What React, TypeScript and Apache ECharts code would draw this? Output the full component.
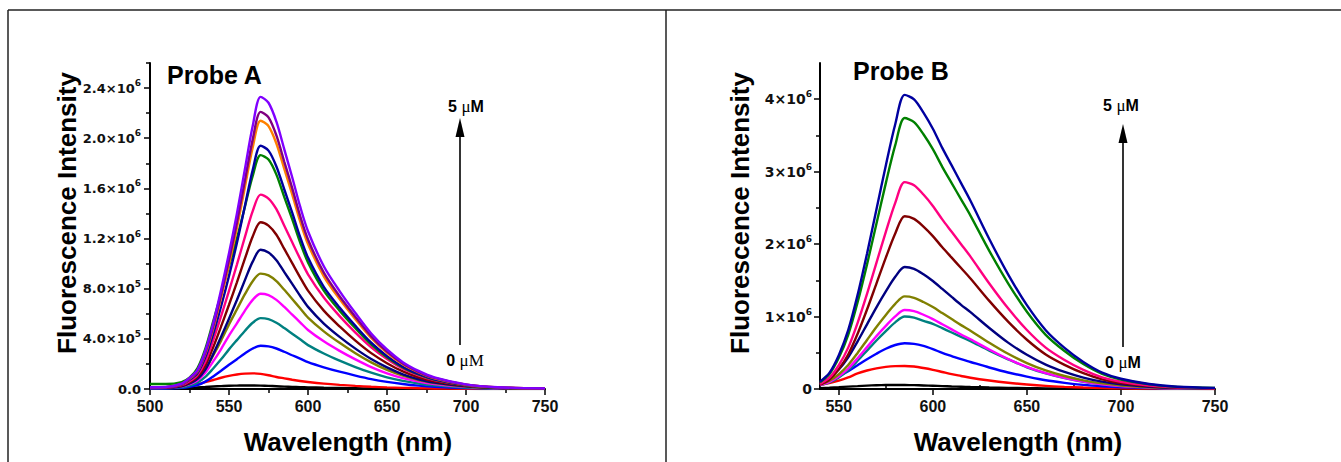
import React, { useEffect, useRef } from 'react';
import * as echarts from 'echarts';

// ---------- Probe A (values in units of 10^6) ----------
const wavelengthA = [500, 510, 520, 525, 530, 535, 540, 545, 550, 555, 560, 565, 570, 575, 580, 585, 590, 595, 600, 610, 620, 630, 640, 650, 660, 670, 680, 700, 720, 750];
const a_black = [0.002, 0.003, 0.006, 0.008, 0.012, 0.016, 0.02, 0.023, 0.026, 0.027, 0.028, 0.028, 0.027, 0.025, 0.022, 0.019, 0.017, 0.015, 0.013, 0.01, 0.008, 0.006, 0.004, 0.003, 0.002, 0.002, 0.001, 0.001, 0, 0];
const a_red = [0.005, 0.008, 0.016, 0.025, 0.038, 0.055, 0.072, 0.09, 0.105, 0.116, 0.123, 0.125, 0.121, 0.11, 0.096, 0.085, 0.074, 0.064, 0.056, 0.043, 0.033, 0.025, 0.018, 0.013, 0.009, 0.006, 0.004, 0.002, 0.001, 0.001];
const a_blue = [0.003, 0.004, 0.009, 0.017, 0.031, 0.059, 0.1, 0.145, 0.193, 0.238, 0.283, 0.323, 0.345, 0.34, 0.323, 0.297, 0.269, 0.242, 0.214, 0.173, 0.138, 0.107, 0.079, 0.057, 0.04, 0.027, 0.018, 0.008, 0.003, 0.001];
const a_teal = [0.006, 0.007, 0.014, 0.028, 0.051, 0.096, 0.164, 0.237, 0.316, 0.39, 0.463, 0.528, 0.565, 0.557, 0.528, 0.486, 0.441, 0.396, 0.35, 0.283, 0.226, 0.175, 0.13, 0.093, 0.065, 0.044, 0.029, 0.012, 0.005, 0.002];
const a_magenta = [0.008, 0.009, 0.019, 0.038, 0.068, 0.129, 0.22, 0.319, 0.426, 0.524, 0.623, 0.711, 0.76, 0.749, 0.711, 0.654, 0.593, 0.532, 0.471, 0.38, 0.304, 0.236, 0.175, 0.125, 0.087, 0.059, 0.04, 0.017, 0.006, 0.002];
const a_olive = [0.009, 0.011, 0.023, 0.046, 0.083, 0.156, 0.267, 0.386, 0.515, 0.635, 0.754, 0.86, 0.92, 0.906, 0.86, 0.791, 0.718, 0.644, 0.57, 0.46, 0.368, 0.285, 0.212, 0.152, 0.106, 0.072, 0.048, 0.02, 0.007, 0.003];
const a_navy = [0.008, 0.009, 0.022, 0.044, 0.08, 0.155, 0.278, 0.416, 0.561, 0.71, 0.866, 1.016, 1.11, 1.088, 1.027, 0.932, 0.838, 0.744, 0.655, 0.522, 0.416, 0.322, 0.239, 0.172, 0.117, 0.078, 0.051, 0.021, 0.008, 0.003];
const a_wine = [0.009, 0.011, 0.027, 0.053, 0.096, 0.186, 0.333, 0.499, 0.672, 0.851, 1.037, 1.217, 1.33, 1.303, 1.23, 1.117, 1.004, 0.891, 0.785, 0.625, 0.499, 0.386, 0.286, 0.206, 0.14, 0.093, 0.061, 0.025, 0.009, 0.004];
const a_pink = [0.011, 0.012, 0.031, 0.062, 0.112, 0.217, 0.388, 0.581, 0.783, 0.992, 1.209, 1.418, 1.55, 1.519, 1.434, 1.302, 1.17, 1.039, 0.915, 0.729, 0.581, 0.45, 0.333, 0.24, 0.163, 0.109, 0.071, 0.029, 0.011, 0.005];
const a_green = [0.04, 0.04, 0.055, 0.09, 0.165, 0.32, 0.54, 0.76, 0.98, 1.2, 1.45, 1.7, 1.865, 1.83, 1.71, 1.53, 1.355, 1.17, 1.01, 0.785, 0.625, 0.485, 0.355, 0.252, 0.172, 0.116, 0.075, 0.03, 0.011, 0.004];
const a_darkblue = [0.012, 0.014, 0.035, 0.074, 0.126, 0.252, 0.437, 0.66, 0.902, 1.164, 1.455, 1.746, 1.94, 1.901, 1.775, 1.591, 1.407, 1.213, 1.048, 0.815, 0.65, 0.504, 0.369, 0.262, 0.178, 0.12, 0.078, 0.031, 0.012, 0.004];
const a_orange = [0.013, 0.015, 0.039, 0.081, 0.139, 0.278, 0.482, 0.728, 0.995, 1.284, 1.605, 1.926, 2.14, 2.097, 1.958, 1.755, 1.552, 1.338, 1.156, 0.899, 0.717, 0.556, 0.407, 0.289, 0.197, 0.133, 0.086, 0.034, 0.013, 0.004];
const a_purple = [0.013, 0.015, 0.04, 0.084, 0.144, 0.287, 0.497, 0.751, 1.028, 1.326, 1.658, 1.989, 2.21, 2.166, 2.022, 1.812, 1.602, 1.381, 1.193, 0.928, 0.74, 0.575, 0.42, 0.298, 0.203, 0.137, 0.088, 0.035, 0.013, 0.004];
const a_violet = [0.014, 0.016, 0.042, 0.089, 0.151, 0.303, 0.524, 0.792, 1.083, 1.398, 1.748, 2.097, 2.33, 2.283, 2.132, 1.911, 1.689, 1.456, 1.258, 0.979, 0.781, 0.606, 0.443, 0.315, 0.214, 0.144, 0.093, 0.037, 0.014, 0.005];
const seriesA = [a_black, a_red, a_blue, a_teal, a_magenta, a_olive, a_navy, a_wine, a_pink, a_green, a_darkblue, a_orange, a_purple, a_violet];
const colorsA = ['#000000', '#FF0000', '#0000FF', '#008080', '#FF00FF', '#808000', '#000080', '#800000', '#FF0080', '#008000', '#0000A0', '#FF8000', '#800080', '#8000FF'];
const yTicksA = [0, 0.4, 0.8, 1.2, 1.6, 2.0, 2.4];
const yTickTextA = ['0.0', '4.0×10^5', '8.0×10^5', '1.2×10^6', '1.6×10^6', '2.0×10^6', '2.4×10^6'];

// ---------- Probe B (values in units of 10^6) ----------
const wavelengthB = [540, 545, 550, 555, 560, 565, 570, 575, 580, 585, 590, 595, 600, 605, 610, 615, 620, 630, 640, 650, 660, 670, 680, 690, 700, 715, 730, 750];
const b_black = [0.012, 0.018, 0.025, 0.033, 0.04, 0.047, 0.052, 0.055, 0.056, 0.055, 0.053, 0.049, 0.045, 0.04, 0.035, 0.031, 0.027, 0.02, 0.015, 0.011, 0.008, 0.005, 0.004, 0.003, 0.002, 0.001, 0.001, 0];
const b_red = [0.055, 0.08, 0.115, 0.16, 0.215, 0.255, 0.285, 0.305, 0.316, 0.318, 0.31, 0.29, 0.265, 0.235, 0.205, 0.18, 0.155, 0.117, 0.086, 0.062, 0.043, 0.03, 0.02, 0.013, 0.009, 0.005, 0.003, 0.001];
const b_blue = [0.076, 0.12, 0.177, 0.246, 0.329, 0.411, 0.487, 0.556, 0.607, 0.632, 0.623, 0.594, 0.55, 0.499, 0.455, 0.411, 0.373, 0.297, 0.228, 0.171, 0.12, 0.085, 0.057, 0.038, 0.025, 0.013, 0.006, 0.003];
const b_teal = [0.05, 0.09, 0.16, 0.26, 0.39, 0.53, 0.67, 0.8, 0.92, 1.0, 0.985, 0.94, 0.9, 0.84, 0.78, 0.72, 0.66, 0.53, 0.41, 0.3, 0.215, 0.15, 0.1, 0.065, 0.041, 0.02, 0.01, 0.005];
const b_magenta = [0.055, 0.098, 0.174, 0.283, 0.425, 0.578, 0.73, 0.872, 1.003, 1.09, 1.074, 1.025, 0.965, 0.894, 0.823, 0.752, 0.687, 0.545, 0.414, 0.305, 0.218, 0.153, 0.102, 0.065, 0.041, 0.021, 0.01, 0.005];
const b_olive = [0.064, 0.115, 0.204, 0.332, 0.498, 0.677, 0.856, 1.022, 1.176, 1.278, 1.259, 1.201, 1.131, 1.048, 0.965, 0.882, 0.805, 0.639, 0.486, 0.358, 0.256, 0.179, 0.12, 0.077, 0.049, 0.024, 0.012, 0.006];
const b_navy = [0.084, 0.152, 0.269, 0.438, 0.657, 0.893, 1.128, 1.347, 1.549, 1.684, 1.659, 1.583, 1.49, 1.381, 1.271, 1.162, 1.061, 0.842, 0.64, 0.472, 0.337, 0.236, 0.158, 0.101, 0.064, 0.032, 0.015, 0.008];
const b_wine = [0.06, 0.131, 0.274, 0.477, 0.763, 1.097, 1.455, 1.813, 2.147, 2.385, 2.349, 2.242, 2.111, 1.956, 1.813, 1.67, 1.526, 1.216, 0.93, 0.68, 0.477, 0.334, 0.219, 0.134, 0.083, 0.041, 0.019, 0.01];
const b_pink = [0.071, 0.157, 0.328, 0.571, 0.914, 1.313, 1.742, 2.17, 2.57, 2.855, 2.812, 2.684, 2.527, 2.341, 2.17, 1.999, 1.827, 1.456, 1.113, 0.814, 0.571, 0.4, 0.263, 0.16, 0.1, 0.049, 0.023, 0.011];
const b_green = [0.094, 0.206, 0.43, 0.748, 1.197, 1.72, 2.281, 2.842, 3.366, 3.74, 3.684, 3.516, 3.31, 3.067, 2.842, 2.618, 2.394, 1.907, 1.459, 1.066, 0.748, 0.524, 0.344, 0.209, 0.131, 0.064, 0.03, 0.015];
const b_darkblue = [0.102, 0.223, 0.467, 0.812, 1.299, 1.868, 2.477, 3.086, 3.654, 4.06, 3.999, 3.816, 3.593, 3.329, 3.086, 2.842, 2.598, 2.071, 1.583, 1.157, 0.812, 0.568, 0.374, 0.227, 0.142, 0.069, 0.032, 0.016];
const seriesB = [b_black, b_red, b_blue, b_teal, b_magenta, b_olive, b_navy, b_wine, b_pink, b_green, b_darkblue];
const colorsB = ['#000000', '#FF0000', '#0000FF', '#008080', '#FF00FF', '#808000', '#000080', '#800000', '#FF0080', '#008000', '#0000A0'];
const yTicksB = [0, 1, 2, 3, 4];
const yTickTextB = ['0', '1×10^6', '2×10^6', '3×10^6', '4×10^6'];
const xMajorB = [550, 600, 650, 700, 750];
const xMinorB = [575, 625, 675, 725];

const SANS = "'Liberation Sans', Arial, sans-serif";
const SERIF = "'Liberation Serif', 'Times New Roman', serif";
const WIDE = "'DejaVu Sans', sans-serif";

function yFormatter(ticks: number[], texts: string[]) {
  return (v: number) => {
    const i = ticks.findIndex((t) => Math.abs(t - v) < 1e-6);
    if (i < 0) return '';
    const [m, e] = texts[i].split('^');
    return e ? `{m|${m}}{e|${e}}` : `{m|${m}}`;
  };
}

function yRich(size: number) {
  return {
    m: { fontFamily: WIDE, fontWeight: 'bold', fontSize: size, color: '#111', lineHeight: size + 1 },
    e: { fontFamily: WIDE, fontWeight: 'bold', fontSize: 9, color: '#111', lineHeight: 9, padding: [0, 0, 10, 0] },
  };
}

const axisLine = { show: true, onZero: false, lineStyle: { color: '#000', width: 2 } };
const tickStyle = { color: '#000', width: 1.5 };

export default function App() {
  const ref = useRef<HTMLDivElement>(null);
  useEffect(() => {
    document.body.style.margin = '0';
    const chart = echarts.init(ref.current!, null, { renderer: 'svg' });
    const series: any[] = [];
    seriesA.forEach((ys, k) => {
      series.push({
        type: 'line', xAxisIndex: 0, yAxisIndex: 0, showSymbol: false, silent: true,
        smooth: 0.3,
        lineStyle: { color: colorsA[k], width: 2.4 }, itemStyle: { color: colorsA[k] },
        data: wavelengthA.map((x, i) => [x, ys[i]]),
      });
    });
    seriesB.forEach((ys, k) => {
      series.push({
        type: 'line', xAxisIndex: 1, yAxisIndex: 1, showSymbol: false, silent: true,
        smooth: 0.3,
        lineStyle: { color: colorsB[k], width: 2.4 }, itemStyle: { color: colorsB[k] },
        data: wavelengthB.map((x, i) => [x, ys[i]]),
      });
    });

    const arrowA = 460;
    const arrowB = 1123;
    const muRich = {
      n: { fontFamily: SANS, fontWeight: 'bold', fontSize: 16, color: '#000' },
      u: { fontFamily: SERIF, fontSize: 17, color: '#000' },
    };

    chart.setOption({
      animation: false,
      grid: [
        { left: 150, top: 63, width: 395, height: 326, containLabel: false },
        { left: 820, top: 63, width: 395, height: 326, containLabel: false },
      ],
      xAxis: [
        {
          type: 'value', gridIndex: 0, min: 500, max: 750, interval: 50,
          axisLine, splitLine: { show: false },
          axisTick: { show: true, inside: false, length: 6, lineStyle: tickStyle },
          minorTick: { show: true, splitNumber: 2, length: 4, lineStyle: tickStyle },
          axisLabel: { margin: 9, fontFamily: SANS, fontWeight: 'bold', fontSize: 16, color: '#111' },
        },
        {
          type: 'value', gridIndex: 1, min: 540, max: 750,
          axisLine, splitLine: { show: false },
          axisTick: { show: true, length: 6, lineStyle: tickStyle, customValues: xMajorB },
          axisLabel: { margin: 9, fontFamily: SANS, fontWeight: 'bold', fontSize: 16, color: '#111', customValues: xMajorB },
        },
        {
          type: 'value', gridIndex: 1, min: 540, max: 750,
          axisLine: { show: false }, splitLine: { show: false },
          axisTick: { show: true, length: 4, lineStyle: tickStyle, customValues: xMinorB },
          axisLabel: { show: false },
        },
      ],
      yAxis: [
        {
          type: 'value', gridIndex: 0, min: 0, max: 2.6, interval: 0.4,
          axisLine, splitLine: { show: false },
          axisTick: { show: true, length: 6, lineStyle: tickStyle, customValues: yTicksA },
          minorTick: { show: true, splitNumber: 2, length: 4, lineStyle: tickStyle },
          axisLabel: { margin: 9, formatter: yFormatter(yTicksA, yTickTextA), rich: yRich(13) },
        },
        {
          type: 'value', gridIndex: 1, min: 0, max: 4.5, interval: 1,
          axisLine, splitLine: { show: false },
          axisTick: { show: true, length: 6, lineStyle: tickStyle, customValues: yTicksB },
          minorTick: { show: true, splitNumber: 2, length: 4, lineStyle: tickStyle },
          axisLabel: { margin: 8, formatter: yFormatter(yTicksB, yTickTextB), rich: yRich(14) },
        },
      ],
      graphic: [
        { type: 'line', shape: { x1: 8, y1: 10, x2: 1341, y2: 10 }, style: { stroke: '#222', lineWidth: 1.5 } },
        { type: 'line', shape: { x1: 8, y1: 10, x2: 8, y2: 462 }, style: { stroke: '#222', lineWidth: 1.5 } },
        { type: 'line', shape: { x1: 666, y1: 10, x2: 666, y2: 462 }, style: { stroke: '#222', lineWidth: 1.5 } },
        { type: 'text', x: 167, y: 75, style: { text: 'Probe A', font: `bold 25px ${SANS}`, fill: '#000', align: 'left', verticalAlign: 'middle' } },
        { type: 'text', x: 853, y: 71, style: { text: 'Probe B', font: `bold 25px ${SANS}`, fill: '#000', align: 'left', verticalAlign: 'middle' } },
        { type: 'text', x: 67, y: 213, rotation: Math.PI / 2, style: { text: 'Fluorescence Intensity', font: `bold 26px ${SANS}`, fill: '#000', align: 'center', verticalAlign: 'middle' } },
        { type: 'text', x: 740, y: 213, rotation: Math.PI / 2, style: { text: 'Fluorescence Intensity', font: `bold 26px ${SANS}`, fill: '#000', align: 'center', verticalAlign: 'middle' } },
        { type: 'text', x: 348, y: 442, style: { text: 'Wavelength (nm)', font: `bold 26px ${SANS}`, fill: '#000', align: 'center', verticalAlign: 'middle' } },
        { type: 'text', x: 1018, y: 442, style: { text: 'Wavelength (nm)', font: `bold 26px ${SANS}`, fill: '#000', align: 'center', verticalAlign: 'middle' } },
        // Probe A arrow
        { type: 'line', shape: { x1: arrowA, y1: 345, x2: arrowA, y2: 134 }, style: { stroke: '#000', lineWidth: 1.6 } },
        { type: 'polygon', shape: { points: [[arrowA, 118], [arrowA - 4.5, 137], [arrowA + 4.5, 137]] }, style: { fill: '#000' } },
        { type: 'text', x: 466, y: 106, style: { text: '{n|5 }{u|μ}{n|M}', rich: muRich, align: 'center', verticalAlign: 'middle' } },
        { type: 'text', x: 465, y: 360, style: { text: '{n|0 }{u|μM}', rich: muRich, align: 'center', verticalAlign: 'middle' } },
        // Probe B arrow
        { type: 'line', shape: { x1: arrowB, y1: 347, x2: arrowB, y2: 140 }, style: { stroke: '#000', lineWidth: 1.6 } },
        { type: 'polygon', shape: { points: [[arrowB, 124], [arrowB - 4.5, 143], [arrowB + 4.5, 143]] }, style: { fill: '#000' } },
        { type: 'text', x: 1121, y: 105, style: { text: '{n|5 }{u|μ}{n|M}', rich: muRich, align: 'center', verticalAlign: 'middle' } },
        { type: 'text', x: 1123, y: 362, style: { text: '{n|0 }{u|μ}{n|M}', rich: muRich, align: 'center', verticalAlign: 'middle' } },
      ],
      series,
    });
    return () => chart.dispose();
  }, []);
  return <div ref={ref} style={{ width: 1341, height: 462 }} />;
}
